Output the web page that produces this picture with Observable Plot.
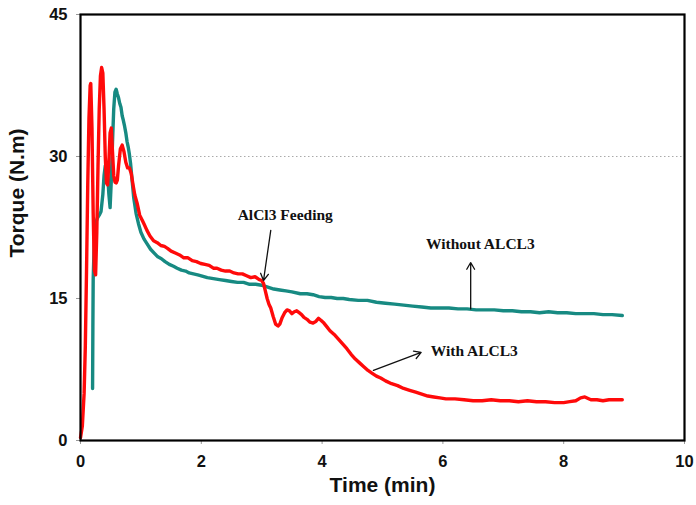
<!DOCTYPE html>
<html>
<head>
<meta charset="utf-8">
<script src="https://cdn.jsdelivr.net/npm/d3@7"></script>
<script src="https://cdn.jsdelivr.net/npm/@observablehq/plot@0.6"></script>
<style>
  html, body { margin: 0; padding: 0; background: #fff; }
  #chart svg { display: block; }
</style>
</head>
<body>
<div id="chart"></div>
<script>
// [time (min), torque (N.m)]
const withALCL3 = [[0,0.3],[0.03,1.5],[0.06,5],[0.08,10],[0.1,18],[0.12,27],[0.14,34],[0.16,37.5],[0.17,37.7],[0.19,33],[0.21,24],[0.23,18],[0.25,17.5],[0.27,22],[0.29,29],[0.31,35],[0.33,38.5],[0.35,39.4],[0.37,38.8],[0.39,35],[0.41,30],[0.43,27.2],[0.45,27],[0.47,29.5],[0.49,32.5],[0.51,33],[0.53,30.5],[0.55,28],[0.57,27.3],[0.59,27.2],[0.61,27.5],[0.63,29],[0.66,30.8],[0.69,31.2],[0.72,30.5],[0.75,29.4],[0.78,28.8],[0.81,28.8],[0.84,28.2],[0.87,27],[0.9,25.9],[0.94,25],[0.98,23.8],[1.02,23.3],[1.05,22.9],[1.1,22.2],[1.15,21.6],[1.21,21.1],[1.27,20.9],[1.33,20.6],[1.39,20.5],[1.44,20.3],[1.5,20.0],[1.57,19.8],[1.64,19.6],[1.71,19.3],[1.78,19.3],[1.85,19.0],[1.92,18.9],[1.99,18.7],[2.06,18.6],[2.13,18.5],[2.2,18.2],[2.26,18.2],[2.33,18.0],[2.4,17.9],[2.47,17.9],[2.54,17.7],[2.61,17.6],[2.68,17.6],[2.75,17.4],[2.82,17.2],[2.89,17.3],[2.96,17.0],[3.0,16.9],[3.03,16.6],[3.06,15.8],[3.09,15.0],[3.12,14.4],[3.15,14.0],[3.19,13.1],[3.23,12.3],[3.27,12.1],[3.3,12.3],[3.34,13.0],[3.38,13.5],[3.42,13.8],[3.46,13.7],[3.5,13.4],[3.54,13.6],[3.58,13.7],[3.62,13.5],[3.66,13.3],[3.7,13.0],[3.75,12.8],[3.8,12.5],[3.85,12.4],[3.9,12.6],[3.94,12.9],[3.98,12.7],[4.03,12.4],[4.08,12.0],[4.13,11.6],[4.2,11.2],[4.27,10.7],[4.34,10.2],[4.41,9.7],[4.48,9.1],[4.55,8.6],[4.62,8.2],[4.69,7.8],[4.76,7.4],[4.83,7.1],[4.9,6.8],[4.97,6.6],[5.05,6.3],[5.15,6.0],[5.25,5.8],[5.35,5.5],[5.45,5.3],[5.55,5.1],[5.65,4.9],[5.75,4.7],[5.85,4.6],[5.95,4.5],[6.05,4.4],[6.2,4.4],[6.35,4.3],[6.5,4.2],[6.65,4.2],[6.8,4.3],[6.95,4.2],[7.1,4.2],[7.25,4.1],[7.4,4.2],[7.55,4.1],[7.7,4.1],[7.85,4.0],[8.0,4.0],[8.1,4.1],[8.2,4.2],[8.28,4.5],[8.35,4.6],[8.45,4.3],[8.55,4.3],[8.65,4.2],[8.75,4.3],[8.85,4.3],[8.97,4.3]];

const withoutALCL3 = [[0.2,5.5],[0.205,12],[0.21,17],[0.23,21.5],[0.25,23],[0.28,23.5],[0.31,23.8],[0.34,24.2],[0.37,26],[0.39,28],[0.41,29],[0.43,29.2],[0.45,28],[0.47,26],[0.49,24.6],[0.51,27.5],[0.53,31.5],[0.55,35],[0.57,36.8],[0.59,37.1],[0.61,36.6],[0.63,36.2],[0.65,35.6],[0.67,35.2],[0.69,34.3],[0.71,33.8],[0.73,33.2],[0.75,32.5],[0.77,31.6],[0.79,31],[0.81,30.2],[0.83,29.2],[0.85,27.8],[0.88,25.7],[0.92,24],[0.96,22.9],[1.0,22],[1.05,21.3],[1.1,20.8],[1.16,20.2],[1.22,19.8],[1.28,19.4],[1.34,19.2],[1.4,18.9],[1.47,18.6],[1.54,18.4],[1.6,18.2],[1.67,18.0],[1.74,17.9],[1.8,17.7],[1.87,17.6],[1.94,17.5],[2.0,17.4],[2.1,17.2],[2.2,17.1],[2.3,17.0],[2.4,16.9],[2.5,16.8],[2.6,16.7],[2.7,16.7],[2.8,16.5],[2.9,16.5],[3.0,16.4],[3.1,16.2],[3.2,16.0],[3.3,15.9],[3.4,15.8],[3.5,15.7],[3.64,15.5],[3.75,15.5],[3.85,15.4],[3.95,15.2],[4.05,15.1],[4.15,15.1],[4.25,15.0],[4.35,15.0],[4.45,14.9],[4.6,14.8],[4.75,14.8],[4.9,14.6],[5.05,14.5],[5.2,14.4],[5.35,14.3],[5.5,14.2],[5.65,14.1],[5.8,14.0],[5.95,14.0],[6.1,14.0],[6.25,13.9],[6.4,13.9],[6.55,13.8],[6.7,13.8],[6.85,13.8],[7.0,13.7],[7.15,13.7],[7.3,13.6],[7.45,13.6],[7.6,13.5],[7.75,13.6],[7.9,13.5],[8.05,13.5],[8.2,13.4],[8.35,13.4],[8.5,13.4],[8.65,13.3],[8.8,13.3],[8.97,13.2]];

const xTicks = [0, 2, 4, 6, 8, 10];
const yTicks = [0, 15, 30, 45];
const gridValues = [30];

const noteLabels = ["AlCl3 Feeding", "Without ALCL3", "With ALCL3"];
const noteX = [3.39, 6.62, 6.52];
const noteY = [23.8, 20.8, 9.5];
const arrowX1 = [3.15, 6.46, 4.85];
const arrowY1 = [22.2, 13.9, 7.4];
const arrowX2 = [3.03, 6.46, 5.64];
const arrowY2 = [16.9, 18.8, 9.3];

const notes = noteLabels.map((t, i) => ({text: t, x: noteX[i], y: noteY[i]}));
const arrows = arrowX1.map((x, i) => ({x1: x, y1: arrowY1[i], x2: arrowX2[i], y2: arrowY2[i]}));

const chart = Plot.plot({
  width: 696,
  height: 505,
  marginLeft: 80,
  marginRight: 12,
  marginTop: 14,
  marginBottom: 65,
  style: {fontFamily: "'Liberation Sans', Arial, sans-serif", background: "#fff"},
  x: {domain: [0, 10]},
  y: {domain: [0, 45]},
  marks: [
    Plot.ruleY(gridValues, {stroke: "#aaa", strokeDasharray: "1.5,2.5", strokeWidth: 1}),
    Plot.axisX({ticks: xTicks, tickSize: 4, tickPadding: 11, stroke: "#999", label: null,
      fontSize: 16.5, fontWeight: "bold", fill: "#111"}),
    Plot.axisY({ticks: yTicks, tickSize: 4, tickPadding: 9, stroke: "#999", label: null,
      fontSize: 16.5, fontWeight: "bold", fill: "#111"}),
    Plot.line(withoutALCL3, {x: d => d[0], y: d => d[1], stroke: "#178a82", strokeWidth: 3.4,
      strokeLinejoin: "round", curve: "linear"}),
    Plot.line(withALCL3, {x: d => d[0], y: d => d[1], stroke: "#ff0a0a", strokeWidth: 3.4,
      strokeLinejoin: "round", curve: "linear"}),
    Plot.frame({stroke: "#000", strokeWidth: 2.2}),
    Plot.arrow(arrows, {x1: "x1", y1: "y1", x2: "x2", y2: "y2", stroke: "#111",
      strokeWidth: 1.3, headLength: 9}),
    Plot.text(notes, {x: "x", y: "y", text: "text", fontFamily: "'Liberation Serif', 'Times New Roman', serif",
      fontWeight: "bold", fontSize: 15.5, fill: "#111"}),
    Plot.text(["Time (min)"], {frameAnchor: "bottom", dy: 51, fontSize: 21, fontWeight: "bold",
      fill: "#111", letterSpacing: "1px"}),
    Plot.text(["Torque (N.m)"], {frameAnchor: "left", dx: -63, dy: 30, rotate: -90, fontSize: 21,
      fontWeight: "bold", fill: "#111"})
  ]
});
document.getElementById("chart").appendChild(chart);
</script>
</body>
</html>
